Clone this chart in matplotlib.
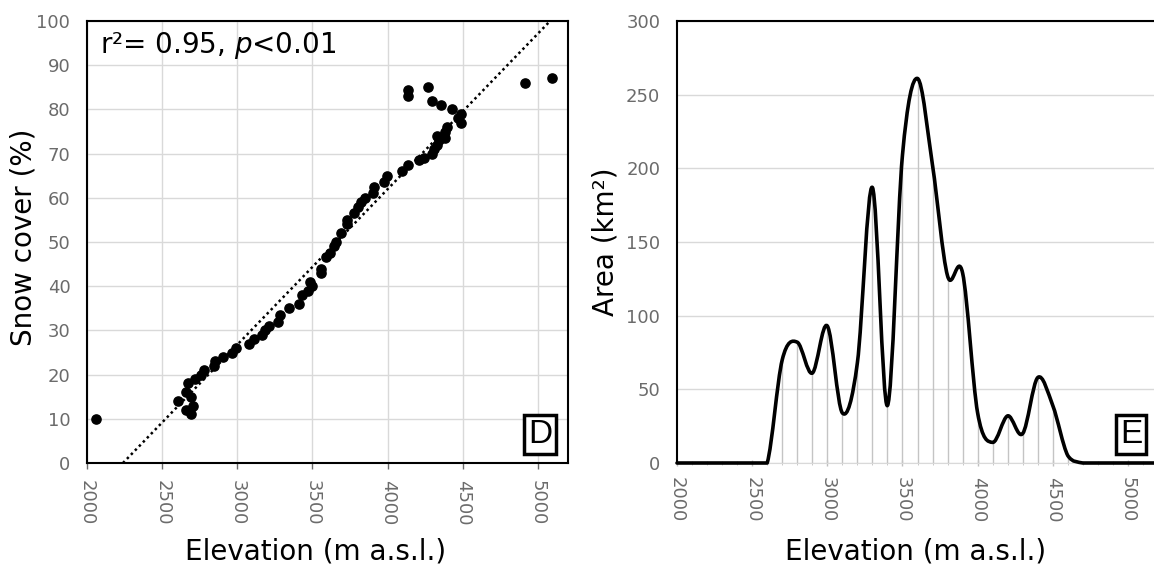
import numpy as np
import matplotlib
matplotlib.use("Agg")
import matplotlib.pyplot as plt
from matplotlib.path import Path
from matplotlib.patches import PathPatch

plt.rcParams["font.family"] = ["DejaVu Sans"]
plt.rcParams["mathtext.fontset"] = "dejavusans"

# D: snow cover vs elevation (scatter)
snow_elev = [2059, 2608, 2657, 2669, 2657, 2689, 2706, 2694, 2719, 2756, 2780, 2842,
             2849, 2903, 2965, 2989, 3075, 3112, 3162, 3186, 3211, 3272, 3285, 3341,
             3408, 3432, 3469, 3494, 3482, 3555, 3555, 3592, 3617, 3641, 3654, 3691,
             3728, 3728, 3777, 3801, 3826, 3851, 3900, 3912, 3974, 3998, 4097, 4134,
             4208, 4244, 4294, 4306, 4331, 4343, 4380, 4331, 4392, 4380, 4466, 4490,
             4490, 4429, 4355, 4294, 4269, 4134, 4134, 4914, 5094]
snow_cover = [10, 14, 16, 18, 12, 11, 13, 15, 19, 20, 21, 22,
              23, 24, 25, 26, 27, 28, 29, 30, 31, 32, 33.5, 35,
              36, 38, 39, 40, 41, 43, 44, 46.5, 47.5, 49, 50, 52,
              54, 55, 56.5, 58, 59, 60, 61, 62.5, 63.5, 65, 66, 67.5,
              68.5, 69, 70, 71, 72, 73, 73.5, 74, 76, 75, 78, 79,
              77, 80, 81, 82, 85, 84.4, 83, 86, 87]
trend_slope = 0.03519
trend_intercept = -78.8
stats_text = "r²= 0.95, $p$<0.01"

# E: area per 100 m elevation band
area_elev = list(range(2000, 5300, 100))
area_km2 = [0, 0, 0, 0, 0, 0, 0, 70, 82, 61, 93, 34, 68, 187, 39, 209, 261,
            202, 127, 129, 34, 14, 32, 20, 58, 39, 5, 0, 0, 0, 0, 0, 0]

GRID = "#d9d9d9"
TICK = "#6b6b6b"


def smooth_path(xs, ys):
    # Excel-style smoothed line: cubic Bezier through every point,
    # control points kept above zero so flat stretches don't dip
    p = np.column_stack([xs, ys]).astype(float)
    ext = np.vstack([p[0], p, p[-1]])
    verts = [p[0]]
    codes = [Path.MOVETO]
    for i in range(len(p) - 1):
        c1 = ext[i + 1] + (ext[i + 2] - ext[i]) / 6
        c2 = ext[i + 2] - (ext[i + 3] - ext[i + 1]) / 6
        c1[1] = max(c1[1], 0)
        c2[1] = max(c2[1], 0)
        verts += [c1, c2, ext[i + 2]]
        codes += [Path.CURVE4] * 3
    return Path(verts, codes)


def style_axis(ax):
    ax.tick_params(axis="both", colors=TICK, labelcolor=TICK, labelsize=13, width=1)
    ax.tick_params(axis="y", length=0, pad=12)
    ax.tick_params(axis="x", length=4, pad=8, labelrotation=270, direction="out")
    ax.set_xlim(2000, 5200)
    ax.set_xticks(range(2000, 5001, 500))


def panel_letter(ax, letter):
    ax.text(0.967, 0.03, letter, transform=ax.transAxes, fontsize=24,
            family="Liberation Sans", ha="right", va="bottom",
            bbox=dict(boxstyle="square,pad=0.12", fc="white", ec="black", lw=2.5))


fig = plt.figure(figsize=(11.54, 5.69), dpi=100)
ax1 = fig.add_axes([87 / 1154, 106 / 569, 481 / 1154, 442 / 569])
ax2 = fig.add_axes([677 / 1154, 106 / 569, 481 / 1154, 442 / 569])

# ---- panel D ----
style_axis(ax1)
ax1.set_ylim(0, 100)
ax1.set_yticks(range(0, 101, 10))
ax1.grid(color=GRID, lw=1)
ax1.set_axisbelow(True)
for s in ax1.spines.values():
    s.set_color("black")
    s.set_linewidth(1.5)
ax1.scatter(snow_elev, snow_cover, s=44, color="black", zorder=3)
tx = np.array([2000, 5200])
ax1.plot(tx, trend_slope * tx + trend_intercept, color="black", ls=(0, (1, 1.3)),
         lw=1.8, zorder=2)
ax1.text(0.027, 0.928, stats_text, transform=ax1.transAxes, fontsize=20,
         va="baseline", ha="left")
panel_letter(ax1, "D")
ax1.set_xlabel("Elevation (m a.s.l.)", fontsize=20)
ax1.set_ylabel("Snow cover (%)", fontsize=20)
ax1.xaxis.set_label_coords(0.476, -0.219)
ax1.xaxis.label.set_va("baseline")
ax1.yaxis.set_label_coords(-0.131, 0.51)
ax1.yaxis.label.set_va("center")

# ---- panel E ----
style_axis(ax2)
ax2.set_ylim(0, 300)
ax2.set_yticks(range(0, 301, 50))
ax2.set_xticks(range(2000, 5300, 100), minor=True)
ax2.tick_params(axis="x", which="minor", length=3, color="#bfbfbf", direction="inout")
ax2.tick_params(axis="x", which="major", color="#bfbfbf", direction="inout")
ax2.grid(axis="y", color=GRID, lw=1)
ax2.set_axisbelow(True)
ax2.spines["left"].set_color("black")
ax2.spines["left"].set_linewidth(1.5)
ax2.spines["top"].set_color("black")
ax2.spines["top"].set_linewidth(1.5)
ax2.spines["right"].set_visible(False)
ax2.spines["bottom"].set_color(GRID)
ax2.vlines(area_elev, 0, area_km2, color="#c4c4c4", lw=1, zorder=2)
ax2.add_patch(PathPatch(smooth_path(area_elev, area_km2), fill=False, ec="black",
                        lw=2.6, capstyle="round", joinstyle="round", zorder=3,
                        clip_on=False))
panel_letter(ax2, "E")
ax2.set_xlabel("Elevation (m a.s.l.)", fontsize=20)
ax2.set_ylabel("Area (km²)", fontsize=20)
ax2.xaxis.set_label_coords(0.495, -0.219)
ax2.xaxis.label.set_va("baseline")
ax2.yaxis.set_label_coords(-0.148, 0.5)
ax2.yaxis.label.set_va("center")

fig.savefig("out.png", dpi=100)
